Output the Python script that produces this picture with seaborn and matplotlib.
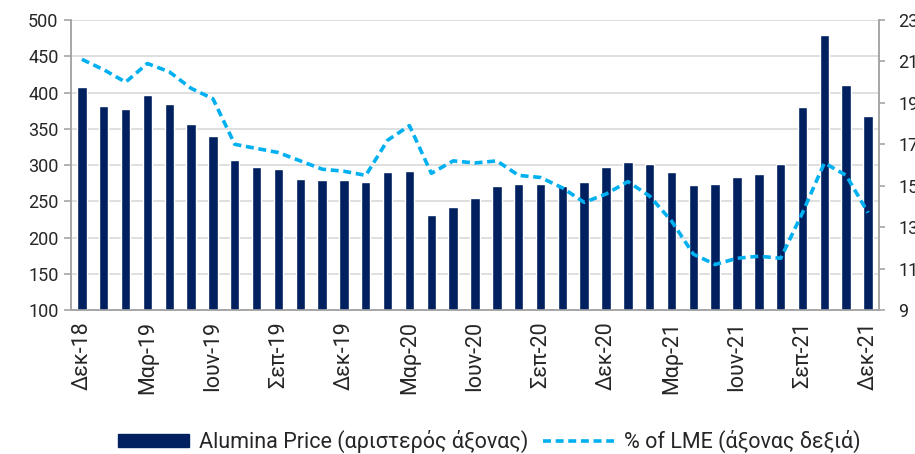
import numpy as np
import pandas as pd
import matplotlib
matplotlib.use("Agg")
import matplotlib.pyplot as plt
import seaborn as sns
from matplotlib.patches import Patch
from matplotlib.lines import Line2D

# Monthly series, Dec 2018 - Dec 2021
months = ["Δεκ-18",
          "Ιαν-19", "Φεβ-19", "Μαρ-19", "Απρ-19", "Μαϊ-19", "Ιουν-19",
          "Ιουλ-19", "Αυγ-19", "Σεπ-19", "Οκτ-19", "Νοε-19", "Δεκ-19",
          "Ιαν-20", "Φεβ-20", "Μαρ-20", "Απρ-20", "Μαϊ-20", "Ιουν-20",
          "Ιουλ-20", "Αυγ-20", "Σεπ-20", "Οκτ-20", "Νοε-20", "Δεκ-20",
          "Ιαν-21", "Φεβ-21", "Μαρ-21", "Απρ-21", "Μαϊ-21", "Ιουν-21",
          "Ιουλ-21", "Αυγ-21", "Σεπ-21", "Οκτ-21", "Νοε-21", "Δεκ-21"]

alumina_price = [407, 382, 377, 396, 384, 356, 340, 307, 297, 295, 281, 279,
                 279, 277, 290, 292, 231, 242, 255, 271, 274, 274, 271, 276,
                 297, 304, 301, 290, 272, 274, 283, 288, 301, 380, 479, 410, 368]

pct_of_lme = [21.1, 20.6, 20.0, 20.9, 20.5, 19.7, 19.2, 17.0, 16.8, 16.6, 16.2, 15.8,
              15.7, 15.5, 17.2, 17.9, 15.6, 16.2, 16.1, 16.2, 15.5, 15.4, 14.9, 14.2,
              14.6, 15.2, 14.5, 13.3, 11.7, 11.2, 11.5, 11.6, 11.5, 13.7, 16.1, 15.5, 13.7]

left_ticks = [100, 150, 200, 250, 300, 350, 400, 450, 500]
right_ticks = [9, 11, 13, 15, 17, 19, 21, 23]

bar_label = "Alumina Price (αριστερός άξονας)"
line_label = "% of LME (άξονας δεξιά)"

navy = "#002060"
sky = "#00B0F0"
grid_grey = "#D9D9D9"
axis_grey = "#A6A6A6"
text_col = "#262626"
dash = (0, (2.2, 1.3))

sns.set_theme(style="white")
plt.rcParams["font.family"] = ["Roboto", "DejaVu Sans"]

df = pd.DataFrame({"month": months, "price": alumina_price,
                   "pct": pct_of_lme, "pos": np.arange(len(months))})

fig = plt.figure(figsize=(9.15, 4.54), dpi=100)
ax = fig.add_axes([0.0776, 0.317, 0.883, 0.639])

sns.barplot(data=df, x="month", y="price", color=navy, width=0.43,
            saturation=1, ax=ax, zorder=3)
ax.set_ylim(100, 500)
ax.set_yticks(left_ticks)
ax.yaxis.grid(True, color=grid_grey, linewidth=1.2, zorder=0)
ax.set_axisbelow(True)
ax.set_xlim(-0.5, len(months) - 0.5)
ax.set_xlabel("")
ax.set_ylabel("")

# quarterly labels centred on bars, tick marks on category boundaries
ax.set_xticks(np.arange(0, len(months), 3))
ax.set_xticklabels([months[i] for i in range(0, len(months), 3)],
                   rotation=90, fontsize=15.5, color=text_col)
ax.tick_params(axis="x", length=0, pad=8)
ax.set_xticks(np.arange(-0.5, len(months) - 1, 3), minor=True)
ax.tick_params(axis="x", which="minor", length=5, color=axis_grey, width=1.2)
ax.tick_params(axis="y", labelsize=13, labelcolor=text_col, length=5,
               color=axis_grey, width=1.2, left=True, pad=4)

ax2 = ax.twinx()
sns.lineplot(data=df, x="pos", y="pct", color=sky, linewidth=2.6,
             dashes=False, ax=ax2, zorder=4)
ax2.lines[0].set_linestyle(dash)
ax2.set_ylim(9, 23)
ax2.set_yticks(right_ticks)
ax2.set_ylabel("")
ax2.set_xlabel("")
ax2.tick_params(axis="y", labelsize=13, labelcolor=text_col, length=4,
                color=axis_grey, width=1.2, right=True, pad=10)

for a in (ax, ax2):
    a.spines["top"].set_visible(False)
    for side in ("left", "right", "bottom"):
        a.spines[side].set_color(axis_grey)
        a.spines[side].set_linewidth(1.2)

handles = [Patch(facecolor=navy, edgecolor=navy),
           Line2D([0], [0], color=sky, linewidth=2.6, linestyle=dash)]
fig.legend(handles, [bar_label, line_label], loc="center",
           bbox_to_anchor=(0.535, 0.027), ncol=2, frameon=False,
           fontsize=15.5, handlelength=3.3, handleheight=0.5,
           columnspacing=0.7, handletextpad=0.45, labelcolor=text_col)

fig.savefig("out.png", dpi=100)
